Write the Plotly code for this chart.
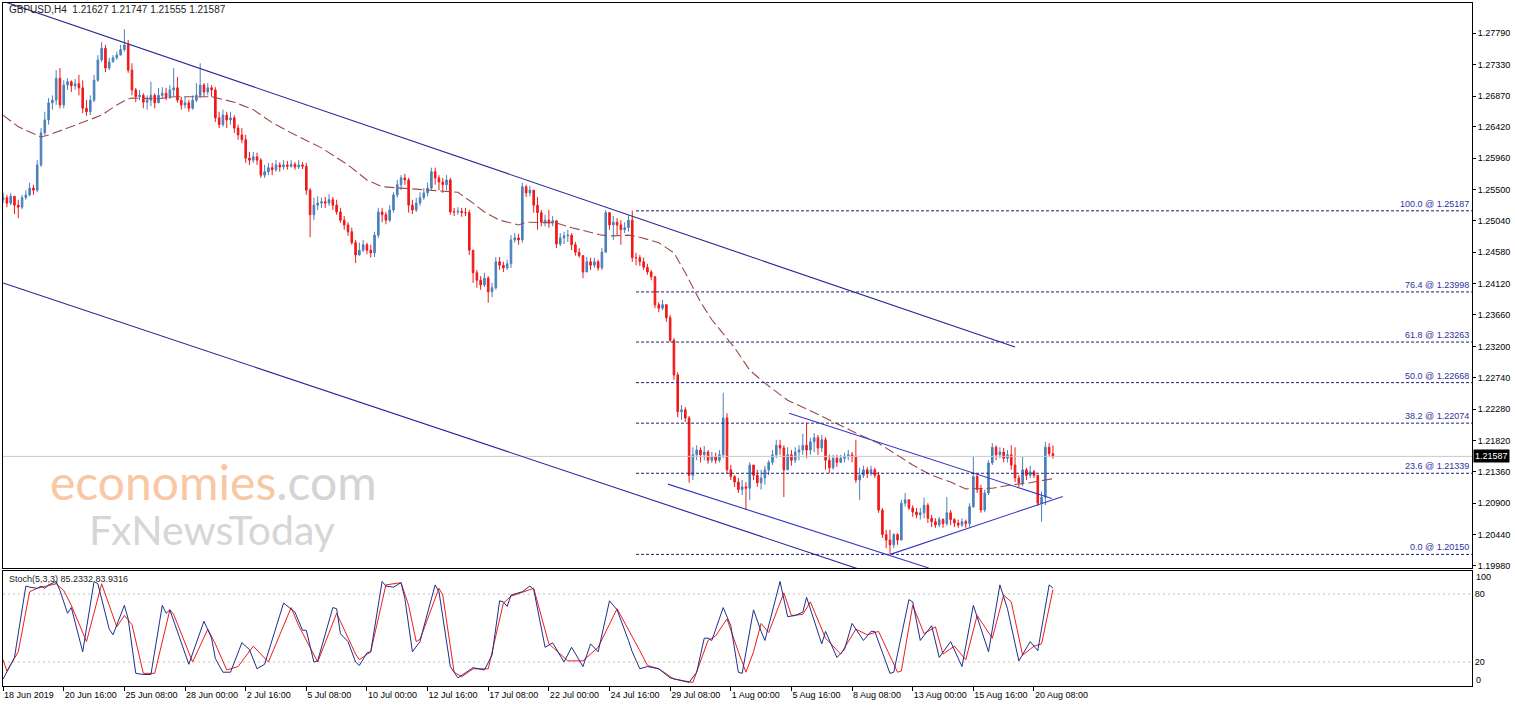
import plotly.graph_objects as go

# ---------------- data ----------------
symbol_header = "GBPUSD,H4&nbsp;&nbsp;1.21627 1.21747 1.21555 1.21587"
stoch_header = "Stoch(5,3,3) 85.2332 83.9316"

first_open = 1.2535
close = [
    1.2538,1.2530,1.2540,1.2527,1.2524,1.2538,
    1.2542,1.2552,1.2549,1.2586,1.2633,1.2652,
    1.2677,1.2681,1.2713,1.2674,1.2703,1.2708,
    1.2702,1.2705,1.2699,1.2669,1.2664,1.2681,
    1.2710,1.2740,1.2757,1.2728,1.2737,1.2743,
    1.2747,1.2755,1.2762,1.2725,1.2696,1.2686,
    1.2688,1.2678,1.2681,1.2688,1.2677,1.2688,
    1.2691,1.2684,1.2696,1.2699,1.2681,1.2674,
    1.2677,1.2669,1.2681,1.2688,1.2703,1.2693,
    1.2699,1.2696,1.2655,1.2645,1.2659,1.2652,
    1.2655,1.2640,1.2630,1.2623,1.2596,1.2593,
    1.2598,1.2593,1.2571,1.2576,1.2582,1.2579,
    1.2586,1.2583,1.2586,1.2584,1.2587,1.2583,
    1.2586,1.2584,1.2549,1.2513,1.2527,1.2530,
    1.2532,1.2530,1.2535,1.2527,1.2517,1.2505,
    1.2498,1.2488,1.2472,1.2454,1.2461,1.2469,
    1.2461,1.2457,1.2483,1.2517,1.2513,1.2505,
    1.2520,1.2542,1.2557,1.2567,1.2564,1.2527,
    1.2520,1.2530,1.2538,1.2545,1.2552,1.2576,
    1.2567,1.2561,1.2557,1.2564,1.2517,1.2517,
    1.2518,1.2516,1.2516,1.2461,1.2428,1.2417,
    1.2410,1.2420,1.2400,1.2406,1.2444,1.2439,
    1.2435,1.2441,1.2476,1.2479,1.2476,1.2554,
    1.2545,1.2549,1.2527,1.2516,1.2502,1.2505,
    1.2501,1.2504,1.2470,1.2479,1.2482,1.2483,
    1.2469,1.2458,1.2453,1.2429,1.2444,1.2439,
    1.2444,1.2435,1.2458,1.2516,1.2498,1.2502,
    1.2498,1.2491,1.2494,1.2505,1.2450,1.2450,
    1.2444,1.2436,1.2429,1.2422,1.2381,1.2376,
    1.2381,1.2362,1.2329,1.2278,1.2224,1.2227,
    1.2215,1.2131,1.2161,1.2168,1.2161,1.2165,
    1.2153,1.2158,1.2153,1.2161,1.2215,1.2139,
    1.2129,1.2121,1.2110,1.2114,1.2112,1.2146,
    1.2131,1.2120,1.2127,1.2139,1.2150,1.2161,
    1.2175,1.2171,1.2139,1.2161,1.2153,1.2165,
    1.2168,1.2175,1.2168,1.2180,1.2186,1.2171,
    1.2183,1.2153,1.2142,1.2156,1.2150,1.2156,
    1.2159,1.2161,1.2158,1.2124,1.2131,1.2139,
    1.2134,1.2139,1.2131,1.2080,1.2044,1.2036,
    1.2029,1.2044,1.2036,1.2090,1.2095,1.2083,
    1.2077,1.2073,1.2076,1.2087,1.2068,1.2063,
    1.2058,1.2066,1.2060,1.2076,1.2066,1.2061,
    1.2058,1.2063,1.2060,1.2085,1.2129,1.2110,
    1.2080,1.2105,1.2149,1.2172,1.2161,1.2165,
    1.2156,1.2161,1.2146,1.2127,1.2120,1.2139,
    1.2131,1.2136,1.2131,1.2090,1.2099,1.2172,
    1.21627,1.21587,
]
high = [
    1.2545,1.2542,1.2545,1.2540,1.2535,1.2542,
    1.2549,1.2560,1.2557,1.2593,1.2640,1.2664,
    1.2684,1.2688,1.2725,1.2728,1.2710,1.2713,
    1.2710,1.2712,1.2718,1.2710,1.2681,1.2688,
    1.2718,1.2747,1.2766,1.2762,1.2743,1.2747,
    1.2752,1.2762,1.2785,1.2769,1.2735,1.2699,
    1.2696,1.2691,1.2688,1.2708,1.2691,1.2699,
    1.2700,1.2699,1.2703,1.2728,1.2715,1.2686,
    1.2686,1.2681,1.2688,1.2706,1.2735,1.2706,
    1.2706,1.2703,1.2700,1.2664,1.2667,1.2664,
    1.2664,1.2659,1.2645,1.2640,1.2630,1.2605,
    1.2605,1.2604,1.2596,1.2586,1.2589,1.2589,
    1.2593,1.2590,1.2593,1.2592,1.2593,1.2590,
    1.2593,1.2590,1.2589,1.2552,1.2538,1.2540,
    1.2538,1.2539,1.2543,1.2539,1.2535,1.2523,
    1.2511,1.2502,1.2494,1.2476,1.2472,1.2476,
    1.2472,1.2469,1.2488,1.2523,1.2523,1.2517,
    1.2527,1.2546,1.2564,1.2571,1.2573,1.2567,
    1.2535,1.2538,1.2546,1.2552,1.2560,1.2582,
    1.2582,1.2571,1.2567,1.2571,1.2567,1.2523,
    1.2524,1.2523,1.2523,1.2520,1.2461,1.2432,
    1.2423,1.2428,1.2423,1.2413,1.2451,1.2451,
    1.2444,1.2447,1.2483,1.2486,1.2485,1.2560,
    1.2557,1.2555,1.2549,1.2539,1.2520,1.2513,
    1.2520,1.2511,1.2505,1.2486,1.2488,1.2491,
    1.2486,1.2473,1.2464,1.2454,1.2451,1.2450,
    1.2450,1.2447,1.2464,1.2520,1.2517,1.2511,
    1.2508,1.2505,1.2502,1.2512,1.2519,1.2457,
    1.2454,1.2450,1.2441,1.2432,1.2423,1.2385,
    1.2388,1.2382,1.2366,1.2332,1.2282,1.2234,
    1.2231,1.2218,1.2172,1.2175,1.2172,1.2174,
    1.2168,1.2165,1.2164,1.2168,1.2252,1.2222,
    1.2146,1.2131,1.2127,1.2124,1.2121,1.2150,
    1.2146,1.2139,1.2139,1.2145,1.2153,1.2168,
    1.2183,1.2183,1.2175,1.2172,1.2168,1.2172,
    1.2175,1.2192,1.2208,1.2186,1.2193,1.2190,
    1.2190,1.2187,1.2161,1.2161,1.2161,1.2161,
    1.2164,1.2168,1.2165,1.2183,1.2142,1.2145,
    1.2143,1.2145,1.2142,1.2136,1.2083,1.2051,
    1.2051,1.2046,1.2046,1.2095,1.2105,1.2095,
    1.2087,1.2083,1.2083,1.2098,1.2090,1.2073,
    1.2068,1.2070,1.2068,1.2099,1.2080,1.2068,
    1.2066,1.2068,1.2066,1.2090,1.2158,1.2133,
    1.2117,1.2110,1.2153,1.2178,1.2175,1.2172,
    1.2171,1.2168,1.2175,1.2172,1.2131,1.2158,
    1.2142,1.2145,1.2139,1.2131,1.2107,1.2180,
    1.2178,1.21747,
]
low = [
    1.2530,1.2524,1.2527,1.2514,1.2508,1.2521,
    1.2535,1.2540,1.2542,1.2546,1.2583,1.2630,
    1.2645,1.2667,1.2674,1.2669,1.2669,1.2696,
    1.2693,1.2696,1.2688,1.2662,1.2658,1.2659,
    1.2678,1.2708,1.2737,1.2722,1.2725,1.2737,
    1.2740,1.2747,1.2752,1.2721,1.2688,1.2678,
    1.2681,1.2669,1.2667,1.2672,1.2669,1.2681,
    1.2684,1.2681,1.2686,1.2687,1.2677,1.2667,
    1.2669,1.2664,1.2667,1.2678,1.2684,1.2686,
    1.2688,1.2686,1.2649,1.2640,1.2642,1.2640,
    1.2645,1.2633,1.2623,1.2618,1.2589,1.2586,
    1.2589,1.2586,1.2567,1.2567,1.2571,1.2571,
    1.2576,1.2576,1.2579,1.2579,1.2582,1.2579,
    1.2580,1.2580,1.2542,1.2480,1.2505,1.2520,
    1.2523,1.2523,1.2526,1.2520,1.2513,1.2501,
    1.2491,1.2482,1.2469,1.2442,1.2453,1.2458,
    1.2455,1.2450,1.2451,1.2479,1.2502,1.2499,
    1.2502,1.2516,1.2538,1.2549,1.2557,1.2516,
    1.2514,1.2517,1.2526,1.2535,1.2540,1.2549,
    1.2557,1.2549,1.2545,1.2549,1.2513,1.2511,
    1.2513,1.2510,1.2511,1.2454,1.2413,1.2406,
    1.2403,1.2407,1.2384,1.2392,1.2403,1.2432,
    1.2429,1.2432,1.2435,1.2472,1.2469,1.2472,
    1.2539,1.2540,1.2516,1.2491,1.2496,1.2496,
    1.2494,1.2496,1.2464,1.2467,1.2470,1.2473,
    1.2461,1.2453,1.2450,1.2420,1.2429,1.2432,
    1.2435,1.2431,1.2432,1.2458,1.2491,1.2476,
    1.2483,1.2469,1.2486,1.2488,1.2444,1.2439,
    1.2438,1.2432,1.2425,1.2417,1.2376,1.2370,
    1.2373,1.2356,1.2326,1.2271,1.2216,1.2212,
    1.2209,1.2120,1.2124,1.2153,1.2150,1.2153,
    1.2148,1.2149,1.2148,1.2150,1.2156,1.2134,
    1.2124,1.2114,1.2105,1.2102,1.2080,1.2095,
    1.2124,1.2114,1.2110,1.2117,1.2131,1.2146,
    1.2156,1.2161,1.2099,1.2139,1.2145,1.2149,
    1.2153,1.2161,1.2156,1.2161,1.2165,1.2161,
    1.2165,1.2139,1.2134,1.2139,1.2143,1.2149,
    1.2150,1.2153,1.2150,1.2120,1.2095,1.2127,
    1.2127,1.2130,1.2127,1.2076,1.2039,1.2024,
    1.2015,1.2024,1.2029,1.2036,1.2085,1.2080,
    1.2070,1.2068,1.2066,1.2068,1.2061,1.2055,
    1.2054,1.2055,1.2054,1.2057,1.2058,1.2055,
    1.2054,1.2055,1.2054,1.2055,1.2083,1.2105,
    1.2076,1.2077,1.2102,1.2146,1.2153,1.2156,
    1.2150,1.2150,1.2139,1.2121,1.2114,1.2115,
    1.2124,1.2127,1.2127,1.2086,1.2063,1.2087,
    1.2159,1.21555,
]

# moving average (bar index, price)
ma_points = [
    (0,1.2659),(4,1.2642),(10,1.2627),(12,1.2630),(17,1.2640),(21,1.2648),(26,1.2659),
    (30,1.2674),(33,1.2683),(34,1.2684),(41,1.2683),(45,1.2686),(52,1.2686),(55,1.2686),
    (61,1.2678),(66,1.2667),(71,1.2648),(76,1.2633),(84,1.2611),(91,1.2586),(96,1.2564),
    (100,1.2554),(105,1.2552),(120,1.2546),(124,1.2530),(127,1.2517),(131,1.2505),
    (136,1.2498),(138,1.2502),(142,1.2501),(146,1.2501),(150,1.2494),(154,1.2488),
    (158,1.2483),(161,1.2482),(165,1.2483),(168,1.2480),(173,1.2472),(177,1.2457),
    (180,1.2428),(184,1.2385),(187,1.2359),(193,1.2318),(197,1.2285),(201,1.2266),
    (207,1.2241),(214,1.2223),(219,1.2209),(225,1.2193),(231,1.2178),(235,1.2164),
    (240,1.2146),(245,1.2131),(250,1.2121),(254,1.2111),(261,1.2112),(266,1.2117),
    (271,1.2120),(275,1.2124),(277,1.2126),
]

# stochastic %K and %D (bar index, value)
stoch_k = [
    (0,5),(3,24),(6,87),(7,86),(9,85),(10,87),(11,85),(12,88),(14,91),(15,83),(17,63),(18,68),
    (21,29),(24,91),(25,89),(28,49),(29,44),(32,70),(33,58),(35,10),(37,9),(39,9),(42,70),
    (43,63),(44,66),(49,18),(53,56),(55,41),(56,23),(58,11),(60,11),(63,37),(65,31),(67,14),
    (69,18),(74,72),(77,64),(79,48),(80,48),(82,20),(83,21),(87,68),(88,67),(89,45),(91,38),
    (93,20),(94,17),(96,28),(97,29),(100,91),(101,87),(103,86),(105,90),(106,76),(108,29),
    (110,38),(111,51),(114,88),(115,82),(118,16),(120,6),(124,15),(127,13),(129,26),(131,74),
    (132,73),(133,69),(134,79),(137,82),(139,87),(140,84),(143,33),(145,37),(148,20),(150,33),
    (153,16),(155,36),(157,29),(160,74),(162,66),(165,39),(166,29),(168,14),(170,16),(173,14),
    (176,6),(181,2),(183,11),(185,41),(186,41),(187,39),(190,68),(192,52),(194,11),(195,10),
    (198,66),(200,47),(201,39),(205,91),(207,60),(209,61),(211,64),(212,77),(216,36),(217,47),
    (220,24),(222,31),(224,54),(227,39),(229,47),(230,47),(234,10),(235,11),(239,75),(240,73),
    (242,39),(245,52),(247,24),(250,38),(253,16),(256,70),(260,29),(263,88),(265,67),(268,21),
    (271,38),(273,30),(276,88),(277,85.2332),
]
stoch_d = [
    (0,22),(1,12),(4,29),(7,82),(9,85),(14,89),(16,83),(18,70),(22,38),(26,89),(30,51),(32,61),
    (34,53),(37,10),(40,10),(44,66),(45,62),(50,20),(54,49),(56,36),(59,13),(62,16),(66,34),
    (70,20),(76,68),(78,52),(83,20),(88,63),(93,27),(94,22),(97,29),(101,88),(105,90),(107,70),
    (109,38),(110,40),(115,85),(116,79),(119,11),(121,7),(124,14),(128,14),(132,72),(134,78),
    (140,85),(144,36),(149,21),(153,21),(157,33),(162,67),(168,30),(170,17),(173,14),(177,5),
    (182,2),(186,39),(188,43),(191,58),(194,29),(196,11),(198,29),(200,54),(202,46),(206,81),
    (208,61),(211,62),(213,73),(217,41),(221,27),(225,49),(228,44),(231,47),(236,11),(237,12),
    (240,70),(243,45),(246,51),(248,27),(251,34),(254,22),(257,61),(261,41),(264,79),(266,73),
    (269,26),(272,34),(274,36),(277,83.9316),
]
stoch_levels = [80, 20]

# trend lines: (bar0, price0, bar1, price1)
channel_lines = [
    (0, 1.2826, 267, 1.2319),     # long channel upper
    (0, 1.2413, 240, 1.1967),     # long channel lower
]
inner_lines = [
    (207.4, 1.2222, 276.7, 1.2097),
    (175.4, 1.2118, 244.2, 1.1995),
    (234.1, 1.2015, 279.6, 1.2100),
]

# Fibonacci retracement levels
fib_start_bar = 167
fib_levels = ["100.0", "76.4", "61.8", "50.0", "38.2", "23.6", "0.0"]
fib_prices = [1.25187, 1.23998, 1.23263, 1.22668, 1.22074, 1.21339, 1.20150]

# axes
price_ticks = [1.27790, 1.27330, 1.26870, 1.26420, 1.25960, 1.25500, 1.25040, 1.24580,
               1.24120, 1.23660, 1.23200, 1.22740, 1.22280, 1.21820, 1.21360, 1.20900,
               1.20440, 1.19980]
date_labels = ["18 Jun 2019", "20 Jun 16:00", "25 Jun 08:00", "28 Jun 00:00", "2 Jul 16:00",
               "5 Jul 08:00", "10 Jul 00:00", "12 Jul 16:00", "17 Jul 08:00", "22 Jul 00:00",
               "24 Jul 16:00", "29 Jul 08:00", "1 Aug 00:00", "5 Aug 16:00", "8 Aug 08:00",
               "13 Aug 00:00", "15 Aug 16:00", "20 Aug 08:00"]
bars_per_label = 16

# ---------------- build ----------------
n = len(close)
bars = list(range(n))
open_ = [first_open] + close[:-1]
high = [max(h, o, c) for h, o, c in zip(high, open_, close)]
low = [min(l, o, c) for l, o, c in zip(low, open_, close)]
tick_bars = [i * bars_per_label for i in range(len(date_labels))]
last_price = close[-1]

FONT = "Liberation Sans"
BULL = "#4a80bc"
BEAR = "#f21818"
X_RANGE = [-0.03, 387.57]
X_END = 400

fig = go.Figure()

fig.add_trace(go.Candlestick(
    x=bars, open=open_, high=high, low=low, close=close,
    increasing=dict(line=dict(color=BULL, width=1), fillcolor=BULL),
    decreasing=dict(line=dict(color=BEAR, width=1), fillcolor=BEAR),
    whiskerwidth=0, xaxis="x", yaxis="y", showlegend=False, hoverinfo="skip"))

# bid line
fig.add_trace(go.Scatter(x=[X_RANGE[0], X_END], y=[last_price, last_price], mode="lines",
                         line=dict(color="#c8c8c8", width=1), xaxis="x", yaxis="y",
                         showlegend=False, hoverinfo="skip"))

# moving average
fig.add_trace(go.Scatter(x=[p[0] for p in ma_points], y=[p[1] for p in ma_points],
                         mode="lines", line=dict(color="#9a4a48", width=1.1, dash="10px,4px"),
                         xaxis="x", yaxis="y", showlegend=False, hoverinfo="skip"))

for (b0, p0, b1, p1) in channel_lines:
    fig.add_trace(go.Scatter(x=[b0, b1], y=[p0, p1], mode="lines",
                             line=dict(color="#26269a", width=1.1), xaxis="x", yaxis="y",
                             showlegend=False, hoverinfo="skip"))
for (b0, p0, b1, p1) in inner_lines:
    fig.add_trace(go.Scatter(x=[b0, b1], y=[p0, p1], mode="lines",
                             line=dict(color="#3838c8", width=1.1), xaxis="x", yaxis="y",
                             showlegend=False, hoverinfo="skip"))

for lvl, pr in zip(fib_levels, fib_prices):
    fig.add_trace(go.Scatter(x=[fib_start_bar, X_END], y=[pr, pr], mode="lines",
                             line=dict(color="#1c1c78", width=1, dash="3px,2px"),
                             xaxis="x", yaxis="y", showlegend=False, hoverinfo="skip"))

# stochastic
for lv in stoch_levels:
    fig.add_trace(go.Scatter(x=[X_RANGE[0], X_END], y=[lv, lv], mode="lines",
                             line=dict(color="#c0c0c0", width=1, dash="2px,3px"),
                             xaxis="x2", yaxis="y2", showlegend=False, hoverinfo="skip"))
fig.add_trace(go.Scatter(x=[p[0] for p in stoch_d], y=[p[1] for p in stoch_d], mode="lines",
                         line=dict(color="#f01c1c", width=1), xaxis="x2", yaxis="y2",
                         showlegend=False, hoverinfo="skip"))
fig.add_trace(go.Scatter(x=[p[0] for p in stoch_k], y=[p[1] for p in stoch_k], mode="lines",
                         line=dict(color="#1e2f8c", width=1), xaxis="x2", yaxis="y2",
                         showlegend=False, hoverinfo="skip"))

axis_common = dict(showgrid=False, zeroline=False, showline=True, linecolor="black",
                   linewidth=1, mirror=True)

annotations = []
annotations.append(dict(xref="paper", yref="paper", x=0.0027, y=0.9898, xanchor="left",
                        yanchor="middle", showarrow=False, text=symbol_header,
                        font=dict(family=FONT, size=10, color="#222")))
annotations.append(dict(xref="paper", yref="paper", x=0.0027, y=0.1567, xanchor="left",
                        yanchor="middle", showarrow=False, text=stoch_header,
                        font=dict(family=FONT, size=9, color="#222")))
for lvl, pr in zip(fib_levels, fib_prices):
    annotations.append(dict(xref="paper", yref="y", x=0.9993, y=pr, xanchor="right",
                            yanchor="bottom", showarrow=False, text=f"{lvl} @ {pr:.5f}",
                            font=dict(family=FONT, size=9, color="#3030a0")))
annotations.append(dict(xref="paper", yref="y", x=1, y=last_price, xanchor="left",
                        yanchor="middle", xshift=1, showarrow=False, text=f"{last_price:.5f}",
                        bgcolor="black", borderpad=1,
                        font=dict(family=FONT, size=9, color="white")))
for txt, yp in (("100", 0.1596), ("0", 0.0088)):
    annotations.append(dict(xref="paper", yref="paper", x=1, y=yp, xanchor="left",
                            yanchor="middle", xshift=2, showarrow=False, text=txt,
                            font=dict(family=FONT, size=9, color="black")))
annotations.append(dict(xref="paper", yref="paper", x=0.0310, y=0.3000, xanchor="left",
                        yanchor="middle", showarrow=False, borderpad=0,
                        text="<span style='color:#f8c7a4'>economies</span>"
                             "<span style='color:#d4d4d4'>.com</span>",
                        font=dict(family="Lato", size=48)))
annotations.append(dict(xref="paper", yref="paper", x=0.0579, y=0.2290, xanchor="left",
                        yanchor="middle", showarrow=False, borderpad=0, text="FxNewsToday",
                        font=dict(family="Lato", size=41, color="#d6d6d6")))

fig.update_layout(
    width=1515, height=706,
    margin=dict(l=3, r=43, t=3, b=20, autoexpand=False),
    paper_bgcolor="white", plot_bgcolor="white",
    boxgap=0.4,
    showlegend=False,
    font=dict(family=FONT, size=9, color="black"),
    xaxis=dict(domain=[0, 1], anchor="y", range=X_RANGE, showticklabels=False, ticks="",
               rangeslider=dict(visible=False), automargin=False, **axis_common),
    yaxis=dict(domain=[0.17204, 1], anchor="x", side="right", range=[1.19943, 1.28234],
               tickvals=price_ticks, tickformat=".5f", ticks="outside", ticklen=3,
               tickcolor="black", tickfont=dict(family=FONT, size=9), automargin=False,
               **axis_common),
    xaxis2=dict(domain=[0, 1], anchor="y2", matches="x", range=X_RANGE,
                tickvals=tick_bars, ticktext=date_labels, ticks="outside", ticklen=4,
                tickcolor="black", ticklabelposition="outside right", tickangle=0,
                tickfont=dict(family=FONT, size=9), automargin=False, **axis_common),
    yaxis2=dict(domain=[0, 0.16838], anchor="x2", side="right", range=[-1.15, 100.26],
                tickvals=stoch_levels, ticks="", tickfont=dict(family=FONT, size=9),
                automargin=False, **axis_common),
    annotations=annotations,
)

fig.write_html("out.html", config={"displayModeBar": False},
               post_script="document.body.style.margin='0px';document.body.style.padding='0px';")
